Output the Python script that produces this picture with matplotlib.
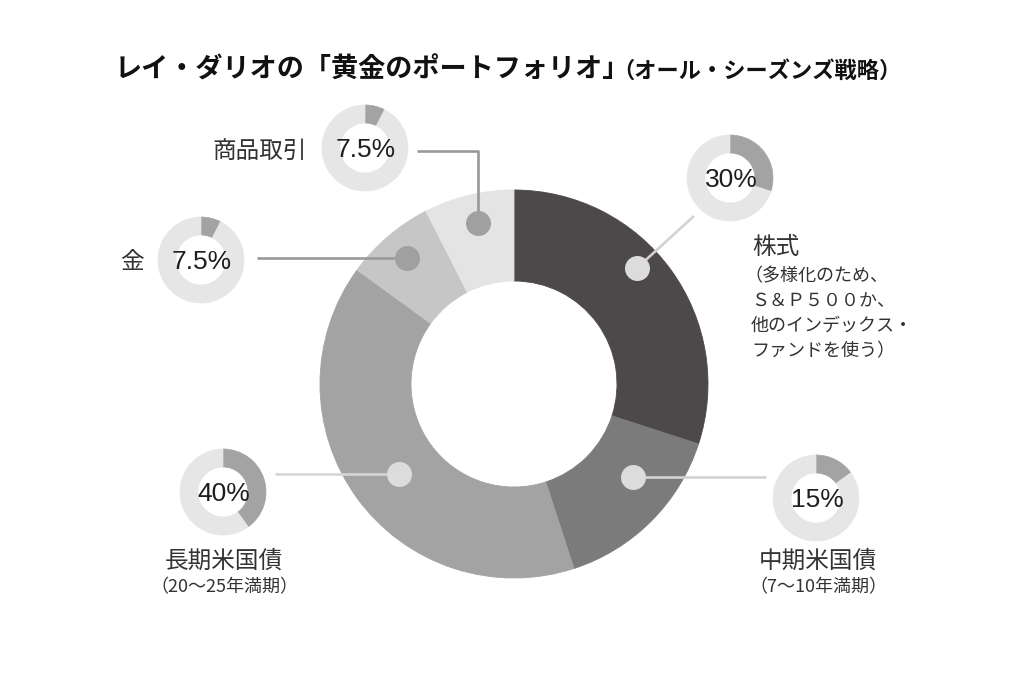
import matplotlib
matplotlib.use("Agg")
import matplotlib.pyplot as plt

plt.rcParams["font.family"] = ["Noto Sans CJK JP", "DejaVu Sans"]

W, H = 1024, 683

# ── data ─────────────────────────────────────────────
names = ["株式", "中期米国債", "長期米国債", "金", "商品取引"]
values = [30, 15, 40, 7.5, 7.5]
pct_labels = ["30%", "15%", "40%", "7.5%", "7.5%"]
seg_colors = ["#4d494a", "#7b7b7b", "#a3a3a3", "#c6c6c6", "#e4e4e4"]

title_main = "レイ・ダリオの「黄金のポートフォリオ」"
title_sub = "（オール・シーズンズ戦略）"
kabu_notes = ["（多様化のため、", "Ｓ＆Ｐ５００か、", "他のインデックス・", "ファンドを使う）"]
chuki_note = "（7〜10年満期）"
choki_note = "（20〜25年満期）"

# ── layout (pixel coords, y down) ──────────────────
main_center = (514, 384)
main_r, main_w = 194, 91
mini_centers = [(730, 178), (816, 498), (223, 492), (201, 260), (365, 148)]
mini_r, mini_w = 43, 18
dot_pos = [(637, 268), (633, 477), (399, 474), (407, 258), (478, 223)]
dot_colors = ["#dcdcdc", "#dcdcdc", "#dcdcdc", "#a0a0a0", "#a0a0a0"]
leader_paths = [
    [(637, 268), (694, 216)],
    [(633, 477), (766, 477)],
    [(275, 474), (399, 474)],
    [(257, 258), (407, 258)],
    [(417, 151), (478, 151), (478, 223)],
]
leader_colors = ["#d2d2d2", "#d2d2d2", "#d6d6d6", "#999999", "#999999"]

fig = plt.figure(figsize=(W / 100, H / 100), dpi=100)
ax = fig.add_axes([0, 0, 1, 1])

# main donut (y axis inverted -> start 270, counterclock in data = clockwise on screen)
wedges, _ = ax.pie(values, colors=seg_colors, startangle=270, counterclock=True,
                   radius=main_r, center=main_center,
                   wedgeprops=dict(width=main_w, linewidth=0.6))
for w in wedges:
    w.set_edgecolor(w.get_facecolor())

# small donuts
for v, c in zip(values, mini_centers):
    ws, _ = ax.pie([v, 100 - v], colors=["#a3a3a3", "#e6e6e6"], startangle=270,
                   counterclock=True, radius=mini_r, center=c,
                   wedgeprops=dict(width=mini_w, linewidth=0.5))
    for w in ws:
        w.set_edgecolor(w.get_facecolor())

# leader lines and dots
for path, lc in zip(leader_paths, leader_colors):
    xs, ys = zip(*path)
    ax.plot(xs, ys, color=lc, lw=1.9, solid_capstyle="butt", zorder=3)
for (x, y), dc in zip(dot_pos, dot_colors):
    ax.plot(x, y, "o", ms=18, color=dc, mec="none", zorder=4)

# percent labels in mini donuts
for lbl, (x, y) in zip(pct_labels, mini_centers):
    ax.text(x + 1, y + 2, lbl, ha="center", va="center", fontsize=19,
            family=["Liberation Sans", "DejaVu Sans"], color="#1e1e1e", zorder=5)

# category labels
lab_color = "#333333"
ax.text(752, 247, names[0], ha="left", va="center", fontsize=17, color=lab_color)
for i, line in enumerate(kabu_notes):
    ax.text(744 if i == 0 else 751, 276 + i * 25, line, ha="left", va="center",
            fontsize=13, color=lab_color)
ax.text(818, 561, names[1], ha="center", va="center", fontsize=17, color=lab_color)
ax.text(818, 587, chuki_note, ha="center", va="center", fontsize=13, color=lab_color)
ax.text(224, 561, names[2], ha="center", va="center", fontsize=17, color=lab_color)
ax.text(224, 587, choki_note, ha="center", va="center", fontsize=13, color=lab_color)
ax.text(132, 262, names[3], ha="center", va="center", fontsize=17, color=lab_color)
ax.text(307, 151, names[4], ha="right", va="center", fontsize=17, color=lab_color)

# title
t = ax.text(115, 70, title_main, ha="left", va="center", fontsize=19.5,
            fontweight="bold", color="#111111")
ax.annotate(title_sub, xy=(1, 0.46), xycoords=t, xytext=(-18, 0),
            textcoords="offset pixels", ha="left", va="center",
            fontsize=16, fontweight="bold", color="#111111")

ax.set_xlim(0, W)
ax.set_ylim(H, 0)
ax.set_aspect("equal")
ax.axis("off")

fig.savefig("out.png", dpi=100, facecolor="white")
